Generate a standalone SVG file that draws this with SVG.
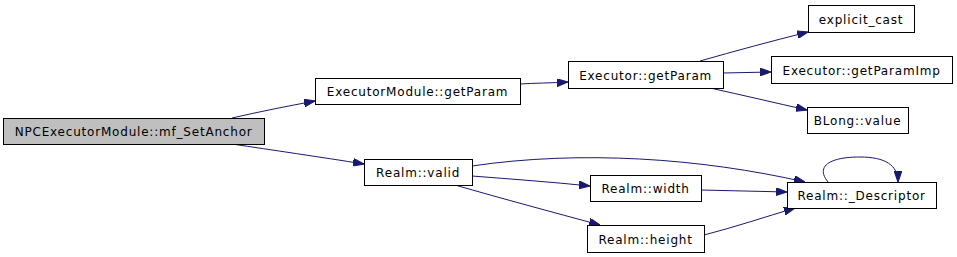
<svg xmlns="http://www.w3.org/2000/svg" width="957" height="257" viewBox="0 0 957 257">
<defs>
<style>
.n rect{fill:#ffffff;stroke:#000000;stroke-width:1}
.n.root rect{fill:#bfbfbf}
.n text{font-family:"DejaVu Sans",sans-serif;font-size:12px;letter-spacing:0.8px;fill:#000000;text-anchor:middle}
.e path{fill:none;stroke:#191970;stroke-width:1;marker-end:url(#ah)}
</style>
<marker id="ah" viewBox="0 0 10 7" refX="10" refY="3.5" markerWidth="11" markerHeight="8" markerUnits="userSpaceOnUse" orient="auto">
<path d="M0,0 L10,3.5 L0,7 Z" fill="#191970" stroke="#191970"/>
</marker>
</defs>
<rect width="957" height="257" fill="#ffffff"/>
<g id="edges" class="e">
<path d="M232,118 C258,112 288,106 315,101"/>
<path d="M232,144 C272,150 320,157 364,164"/>
<path d="M520,84 C535,83 552,83 568,82"/>
<path d="M700,61 C735,51 772,41 808,32"/>
<path d="M723,73 C739,73 755,72 771,72"/>
<path d="M710,88 C742,95 776,103 807,110"/>
<path d="M472,166 C580,150 700,158 805,182"/>
<path d="M472,176 C510,179 552,182 590,186"/>
<path d="M455,185 C500,198 552,212 600,225"/>
<path d="M701,190 C730,191 758,191 787,192"/>
<path d="M704,235 C735,227 765,217 795,208"/>
<path d="M828,182 C815,166 830,157 860,157 C885,157 898,165 898,182"/>
</g>
<g id="n_root" class="n root"><rect x="3.5" y="118.5" width="261" height="26"/><text x="133.6" y="136">NPCExecutorModule::mf_SetAnchor</text></g>
<g id="n_emgp" class="n"><rect x="315.5" y="78.5" width="205" height="26"/><text x="417.6" y="96">ExecutorModule::getParam</text></g>
<g id="n_egp" class="n"><rect x="568.5" y="61.5" width="155" height="27"/><text x="645.6" y="80">Executor::getParam</text></g>
<g id="n_ec" class="n"><rect x="808.5" y="5.5" width="106" height="27"/><text x="861.1" y="24">explicit_cast</text></g>
<g id="n_egpi" class="n"><rect x="771.5" y="56.5" width="181" height="27"/><text x="861.6" y="75">Executor::getParamImp</text></g>
<g id="n_blv" class="n"><rect x="807.5" y="107.5" width="101" height="26"/><text x="857.6" y="125">BLong::value</text></g>
<g id="n_rv" class="n"><rect x="364.5" y="159.5" width="108" height="26"/><text x="418.1" y="177">Realm::valid</text></g>
<g id="n_rw" class="n"><rect x="590.5" y="175.5" width="111" height="26"/><text x="645.6" y="193">Realm::width</text></g>
<g id="n_rh" class="n"><rect x="587.5" y="225.5" width="117" height="27"/><text x="645.6" y="244">Realm::height</text></g>
<g id="n_rd" class="n"><rect x="787.5" y="182.5" width="149" height="26"/><text x="861.6" y="200">Realm::_Descriptor</text></g>
</svg>
